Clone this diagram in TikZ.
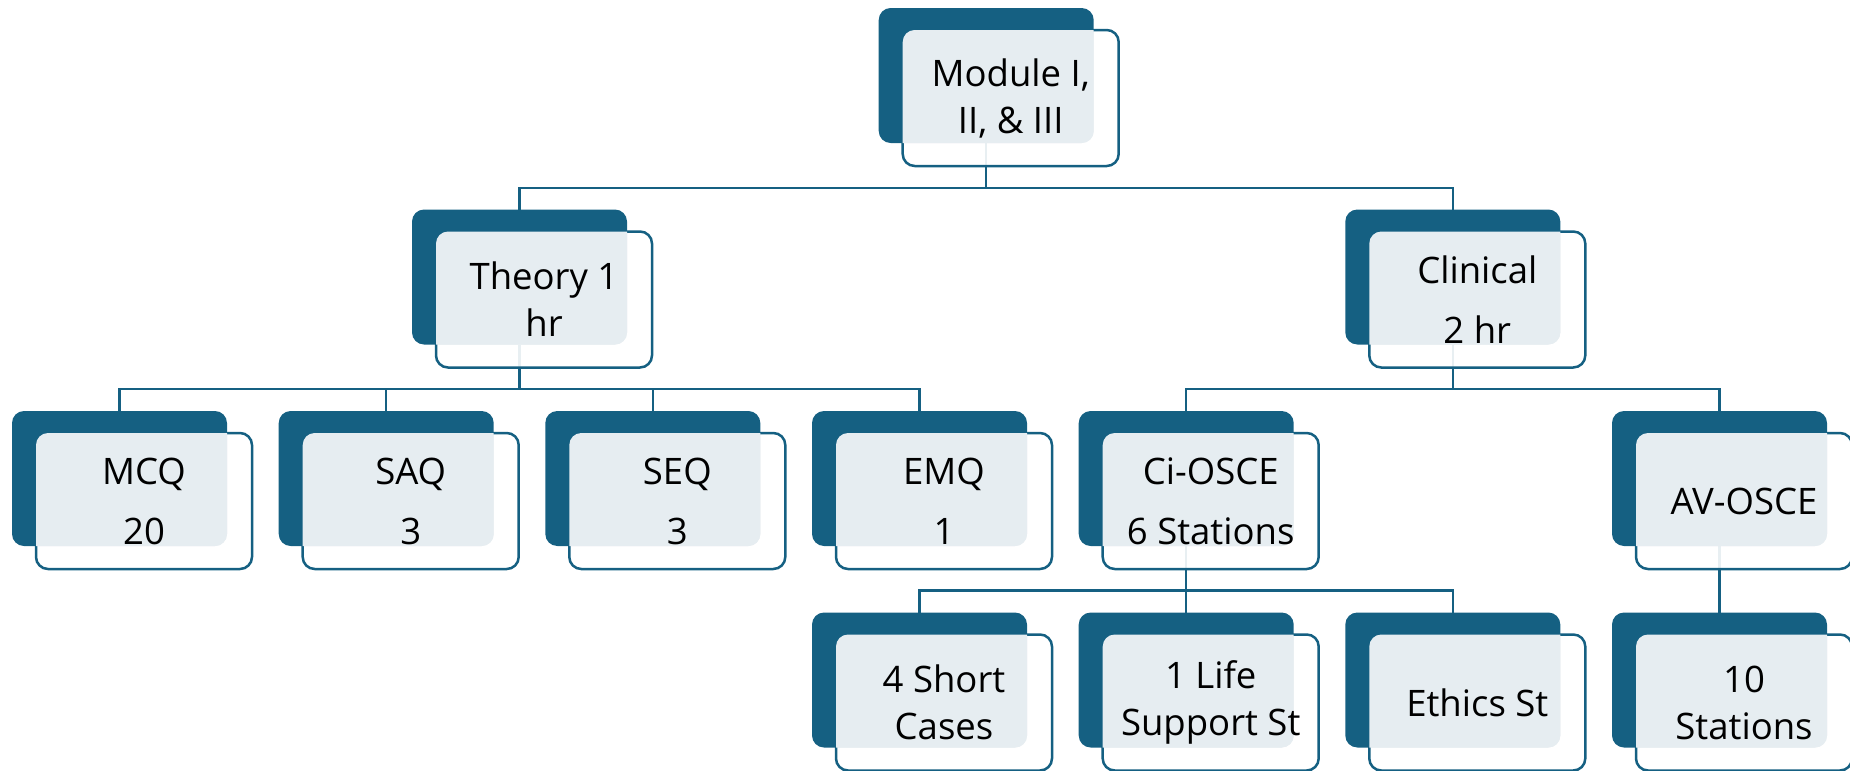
\documentclass[tikz,border=0pt]{standalone}
\usepackage{fontspec}
\setmainfont{Open Sans}
\usetikzlibrary{calc}
\pgfdeclarelayer{bg}
\pgfsetlayers{bg,main}
\definecolor{accent}{HTML}{156082}
\definecolor{tint}{HTML}{E6EDF1}

\tikzset{
  darkbox/.style={rectangle, fill=accent, rounded corners=12pt,
    minimum width=215pt, minimum height=135pt, inner sep=0pt, outer sep=0pt,
    anchor=north west},
  framebox/.style={rectangle, draw=accent, line width=2.5pt, fill=white,
    fill opacity=0.9, rounded corners=12pt, minimum width=216pt,
    minimum height=136pt, inner sep=0pt, outer sep=0pt, anchor=north west},
  boxtext/.style={align=center, inner sep=0pt, text=black,
    font=\fontsize{36.5}{60}\selectfont},
  wrapped/.style={font=\fontsize{36.5}{47}\selectfont},
  conn/.style={draw=accent, line width=2.2pt},
}

% #1 extra text style, #2 name, #3 x, #4 y (top-left of the dark card), #5 text
\newcommand\orgbox[5][]{%
  \node[darkbox] (#2) at (#3,#4) {};
  \node[framebox] (#2-f) at ($(#2.north west)+(24,22)$) {};
  \begin{scope}
    \clip[rounded corners=12pt] (#2.north west) rectangle (#2.south east);
    \fill[tint, rounded corners=12pt] (#2-f.north west) rectangle (#2-f.south east);
  \end{scope}
  \node[boxtext,#1] (#2-t) at (#2-f.center) {#5};
}

\begin{document}
\begin{tikzpicture}[x=1pt, y=-1pt]
\useasboundingbox (0,0) rectangle (1850,771);

% level 1
\orgbox[wrapped]{top}{878.7}{8}{Module I,\\II, \& III}
% level 2
\orgbox[wrapped]{theory}{412}{209.5}{Theory 1\\hr}
\orgbox{clinical}{1345.3}{209.5}{Clinical\\2 hr}
% level 3
\orgbox{mcq}{12}{411}{MCQ\\20}
\orgbox{saq}{278.7}{411}{SAQ\\3}
\orgbox{seq}{545.3}{411}{SEQ\\3}
\orgbox{emq}{812}{411}{EMQ\\1}
\orgbox{ci}{1078.7}{411}{Ci-OSCE\\6 Stations}
\orgbox{av}{1612}{411}{AV-OSCE}
% level 4
\orgbox[wrapped]{sc}{812}{612.5}{4 Short\\Cases}
\orgbox[wrapped]{ls}{1078.7}{612.5}{1 Life\\Support St}
\orgbox{eth}{1345.3}{612.5}{Ethics St}
\orgbox[wrapped]{st}{1612}{612.5}{10\\Stations}

% connectors
\begin{pgfonlayer}{bg}
  \draw[conn] (top.south) -- ++(0,45) coordinate (bus1);
  \draw[conn] (theory.north) |- (bus1) -| (clinical.north);

  \draw[conn] (theory.south) -- ++(0,44.5) coordinate (bus2);
  \draw[conn] (mcq.north) |- (bus2) -| (emq.north);
  \draw[conn] (saq.north) -- (saq.north |- bus2);
  \draw[conn] (seq.north) -- (seq.north |- bus2);

  \draw[conn] (clinical.south) -- ++(0,44.5) coordinate (bus3);
  \draw[conn] (ci.north) |- (bus3) -| (av.north);

  \draw[conn] (ci.south) -- ++(0,44.5) coordinate (bus4);
  \draw[conn] (sc.north) |- (bus4) -| (eth.north);
  \draw[conn] (ls.north) -- (ls.north |- bus4);

  \draw[conn] (av.south) -- (st.north);
\end{pgfonlayer}
\end{tikzpicture}
\end{document}
